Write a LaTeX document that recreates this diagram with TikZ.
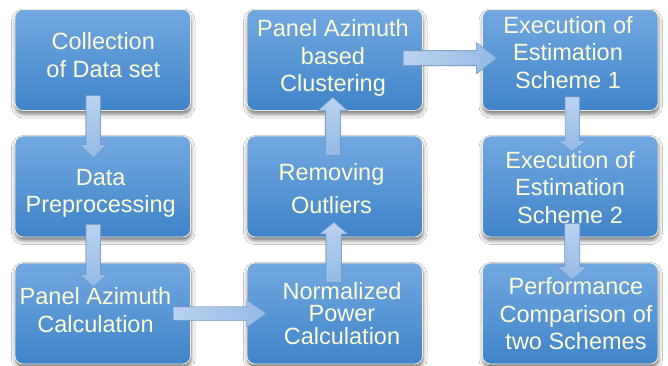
\documentclass[tikz,border=0pt]{standalone}
\usepackage{fontspec}
\setmainfont{Liberation Sans}
\usetikzlibrary{calc,shadows.blur}
\definecolor{boxtop}{RGB}{114,168,224}
\definecolor{boxbot}{RGB}{64,132,201}
\definecolor{boxline}{RGB}{238,238,218}
\definecolor{txtcol}{RGB}{253,251,212}
\definecolor{arrA}{RGB}{186,210,239}
\definecolor{arrB}{RGB}{148,186,229}
\definecolor{arrline}{RGB}{122,163,214}
\tikzset{
  box/.style={draw=boxline, line width=0.8pt, rounded corners=8pt,
    top color=boxtop, bottom color=boxbot,
    minimum width=175.5pt, minimum height=101pt, inner sep=0pt,
    blur shadow={shadow xshift=0.5pt, shadow yshift=-3.5pt, shadow blur radius=4pt, shadow opacity=55}},
  txt/.style={anchor=north, inner sep=0pt, align=center, text=txtcol,
    font=\fontsize{23.5}{27.5}\selectfont,
    execute at begin node={\rule{0pt}{19pt}}},
  harrowstyle/.style={draw=arrline, line width=0.6pt, left color=arrA, right color=arrB},
  varrowstyle/.style={draw=arrline, line width=0.6pt, top color=arrA, bottom color=arrB}
}
% vertical block arrow: #1 start, #2 tip, #3 shaft half width, #4 head half width, #5 head length
\newcommand\vblock[5]{%
  \filldraw[varrowstyle] let \p1=(#1), \p2=(#2), \n1={sign(\y1-\y2)*#5} in
    (\x1-#3,\y1) -- (\x1-#3,\y2+\n1*1pt) -- (\x1-#4,\y2+\n1*1pt) -- (\x1,\y2)
    -- (\x1+#4,\y2+\n1*1pt) -- (\x1+#3,\y2+\n1*1pt) -- (\x1+#3,\y1) -- cycle;}
% horizontal block arrow
\newcommand\hblock[5]{%
  \filldraw[harrowstyle] let \p1=(#1), \p2=(#2), \n1={sign(\x1-\x2)*#5} in
    (\x1,\y1-#3) -- (\x2+\n1*1pt,\y1-#3) -- (\x2+\n1*1pt,\y1-#4) -- (\x2,\y1)
    -- (\x2+\n1*1pt,\y1+#4) -- (\x2+\n1*1pt,\y1+#3) -- (\x1,\y1+#3) -- cycle;}
\begin{document}
\begin{tikzpicture}[x=1pt,y=-1pt]
\fill[white] (0,0) rectangle (668,365);
\useasboundingbox (0,0) rectangle (668,365);
% boxes
\node[box] (b1) at (102.75,60) {};
\node[box] (b2) at (102.75,186.5) {};
\node[box] (b3) at (102.75,313.5) {};
\node[box] (b6) at (334.75,60) {};
\node[box] (b5) at (334.75,186.5) {};
\node[box] (b4) at (334.75,313.5) {};
\node[box] (b7) at (570.25,60) {};
\node[box] (b8) at (570.25,186.5) {};
\node[box] (b9) at (570.25,313.5) {};
% texts
\node[txt] (t1) at (103.3,32) {Collection\\[0.5pt]of Data set};
\node[txt] (t2) at (100.7,169) {Data\\[-0.5pt]Preprocessing};
\node[txt] (t3) at (95.5,287.7) {Panel Azimuth\\Calculation};
\node[txt] (t4) at (342,282) {Normalized\\[-5pt]Power\\[-5pt]Calculation};
\node[txt] (t5) at (331.5,163) {Removing\\[5.5pt]Outliers};
\node[txt] (t6) at (333,19.3) {Panel Azimuth\\based\\Clustering};
\node[txt] (t7) at (568,16) {Execution of\\Estimation\\Scheme 1};
\node[txt] (t8) at (570,151) {Execution of\\Estimation\\Scheme 2};
\node[txt] (t9) at (576,277.7) {Performance\\Comparison of\\two Schemes};
% arrow end points
\coordinate (a1s) at ($(b1.south)+(-9.5,-15.5)$);
\coordinate (a1t) at ($(b2.north)+(-9.5,22)$);
\coordinate (a2s) at ($(b2.south)+(-9.5,-13)$);
\coordinate (a2t) at ($(b3.north)+(-9.5,24)$);
\coordinate (a3s) at ($(b3.east)+(-17.5,0)$);
\coordinate (a3t) at ($(b4.west)+(19.7,0)$);
\coordinate (a4s) at ($(b4.north)+(-1,20)$);
\coordinate (a4t) at ($(b5.south)+(-1,-15)$);
\coordinate (a5s) at ($(b5.north)+(-2,20)$);
\coordinate (a5t) at ($(b6.south)+(-2,-13.5)$);
\coordinate (a6s) at ($(b6.east)+(-19.5,-1.8)$);
\coordinate (a6t) at ($(b7.west)+(14.5,-1.8)$);
\coordinate (a7s) at ($(b7.south)+(2,-14)$);
\coordinate (a7t) at ($(b8.north)+(2,15.7)$);
\coordinate (a8s) at ($(b8.south)+(2,-14)$);
\coordinate (a8t) at ($(b9.north)+(2,17)$);
% arrows
\vblock{a1s}{a1t}{7.3pt}{13.5pt}{13pt}
\vblock{a2s}{a2t}{7.3pt}{13.5pt}{12pt}
\hblock{a3s}{a3t}{6.7pt}{13.5pt}{19.5pt}
\vblock{a4s}{a4t}{7.8pt}{14pt}{11.5pt}
\vblock{a5s}{a5t}{7.5pt}{14.5pt}{13pt}
\hblock{a6s}{a6t}{7.5pt}{15.5pt}{20pt}
\vblock{a7s}{a7t}{7.2pt}{15pt}{11pt}
\vblock{a8s}{a8t}{7.5pt}{15pt}{13pt}
\end{tikzpicture}
\end{document}
